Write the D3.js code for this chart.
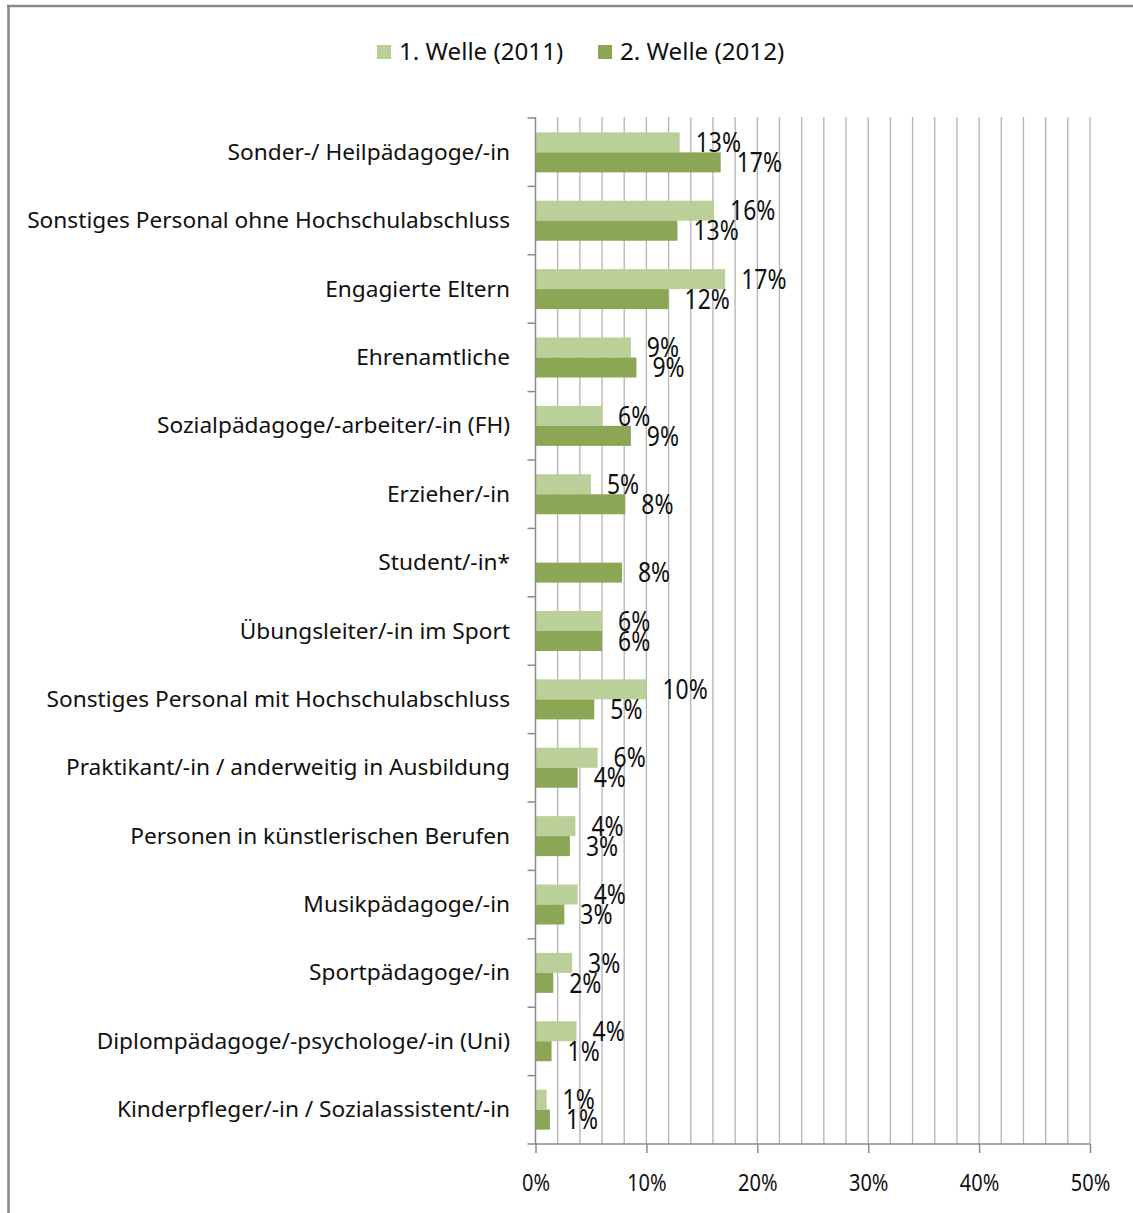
<!DOCTYPE html>
<html>
<head>
<meta charset="utf-8">
<script src="https://cdn.jsdelivr.net/npm/d3@7"></script>
<style>
  html, body { margin: 0; padding: 0; background: #fff; }
  svg { display: block; }
  text { font-family: "Noto Sans", "DejaVu Sans", sans-serif; fill: #111; }
</style>
</head>
<body>
<script>
// Personalgruppen, sortiert wie im Diagramm (oben nach unten)
const categories = [
  "Sonder-/ Heilpädagoge/-in",
  "Sonstiges Personal ohne Hochschulabschluss",
  "Engagierte Eltern",
  "Ehrenamtliche",
  "Sozialpädagoge/-arbeiter/-in (FH)",
  "Erzieher/-in",
  "Student/-in*",
  "Übungsleiter/-in im Sport",
  "Sonstiges Personal mit Hochschulabschluss",
  "Praktikant/-in / anderweitig in Ausbildung",
  "Personen in künstlerischen Berufen",
  "Musikpädagoge/-in",
  "Sportpädagoge/-in",
  "Diplompädagoge/-psychologe/-in (Uni)",
  "Kinderpfleger/-in / Sozialassistent/-in"
];

// Anteile in Prozent; Student/-in* wurde in der 1. Welle nicht erhoben
const welle2011 = [13.0, 16.1, 17.1, 8.6, 6.0, 5.0, null, 6.0, 10.0, 5.6, 3.6, 3.8, 3.3, 3.7, 1.0];
const welle2012 = [16.7, 12.8, 12.0, 9.1, 8.6, 8.1, 7.8, 6.0, 5.3, 3.8, 3.1, 2.6, 1.6, 1.45, 1.3];

const seriesNames = ["1. Welle (2011)", "2. Welle (2012)"];
const seriesColors = ["#bbcf99", "#8ba654"];
const xTicks = [0, 10, 20, 30, 40, 50];
const gridSteps = d3.range(2, 51, 2);

const W = 1133, H = 1213;
const svg = d3.select("body").append("svg").attr("width", W).attr("height", H);

// Rahmen (oben und links sichtbar)
svg.append("line").attr("x1", 7).attr("x2", W).attr("y1", 6).attr("y2", 6)
  .attr("stroke", "#878787").attr("stroke-width", 2.5);
svg.append("line").attr("x1", 8.5).attr("x2", 8.5).attr("y1", 5).attr("y2", H)
  .attr("stroke", "#878787").attr("stroke-width", 2.5);

const x = d3.scaleLinear().domain([0, 50]).range([535.5, 1090]);
const y = d3.scaleBand().domain(categories).range([118, 1144])
  .paddingInner(0.415).paddingOuter(0.21);
const ySub = d3.scaleBand().domain([0, 1]).range([0, y.bandwidth()]);

const plotTop = 117, plotBottom = 1144;

// Gitternetzlinien alle 2 %
svg.append("g").selectAll("line").data(gridSteps).join("line")
  .attr("x1", d => x(d)).attr("x2", d => x(d))
  .attr("y1", plotTop).attr("y2", plotBottom)
  .attr("stroke", "#b4b4b4").attr("stroke-width", 1.3);

// Balken
const rows = categories.map((c, i) => ({ c, vals: [welle2011[i], welle2012[i]] }));
const groups = svg.append("g").selectAll("g").data(rows).join("g")
  .attr("transform", d => `translate(0,${y(d.c)})`);

groups.selectAll("rect")
  .data(d => d.vals.map((v, s) => ({ v, s })).filter(e => e.v != null))
  .join("rect")
  .attr("x", x(0))
  .attr("y", e => ySub(e.s))
  .attr("width", e => x(e.v) - x(0))
  .attr("height", ySub.bandwidth())
  .attr("fill", e => seriesColors[e.s]);

// Datenbeschriftungen (schmal laufende Schrift)
const fmt = v => d3.format(".0f")(v) + "%";
groups.selectAll("text.val")
  .data(d => d.vals.map((v, s) => ({ v, s })).filter(e => e.v != null))
  .join("text")
  .attr("class", "val")
  .attr("transform", e => `translate(${x(e.v) + 16},${ySub(e.s) + ySub.bandwidth() / 2}) scale(0.85,1)`)
  .attr("dy", "0.36em")
  .attr("font-size", 27)
  .text(e => fmt(e.v));

// Achsen
const axisColor = "#8a8a8a";
const xAxis = svg.append("g").attr("transform", `translate(0,${plotBottom})`)
  .call(d3.axisBottom(x).tickValues(xTicks).tickFormat(d => d + "%").tickSize(9).tickPadding(22));
xAxis.select(".domain").attr("stroke", axisColor).attr("stroke-width", 1.5)
  .attr("d", `M${x(0)},0H${x(50)}`);
xAxis.selectAll(".tick line").attr("stroke", axisColor).attr("stroke-width", 1.5);
xAxis.selectAll(".tick text").attr("font-size", 23).attr("font-family", "Noto Sans")
  .attr("fill", "#111").attr("transform", "scale(0.87,1)");

// Senkrechte Achse mit Teilstrichen an den Kategoriegrenzen
svg.append("line").attr("x1", x(0)).attr("x2", x(0)).attr("y1", plotTop).attr("y2", plotBottom)
  .attr("stroke", axisColor).attr("stroke-width", 1.5);
const bounds = d3.range(categories.length + 1).map(i => 118 + i * (1144 - 118) / categories.length);
svg.append("g").selectAll("line").data(bounds).join("line")
  .attr("x1", x(0) - 8).attr("x2", x(0))
  .attr("y1", d => d).attr("y2", d => d)
  .attr("stroke", axisColor).attr("stroke-width", 1.5);

// Kategoriebeschriftungen (leicht breit laufend)
svg.append("g").selectAll("text").data(categories).join("text")
  .attr("transform", d => `translate(510,${y(d) + y.bandwidth() / 2}) scale(1.08,1)`)
  .attr("dy", "0.36em")
  .attr("text-anchor", "end")
  .attr("font-size", 21)
  .text(d => d);

// Legende
const legend = svg.append("g");
const legendX = [377, 598];
seriesNames.forEach((name, i) => {
  legend.append("rect").attr("x", legendX[i]).attr("y", 45).attr("width", 14).attr("height", 14)
    .attr("fill", seriesColors[i]);
  legend.append("text")
    .attr("transform", `translate(${legendX[i] + 22},52) scale(1.05,1)`)
    .attr("dy", "0.36em")
    .attr("font-size", 23).text(name);
});
</script>
</body>
</html>
